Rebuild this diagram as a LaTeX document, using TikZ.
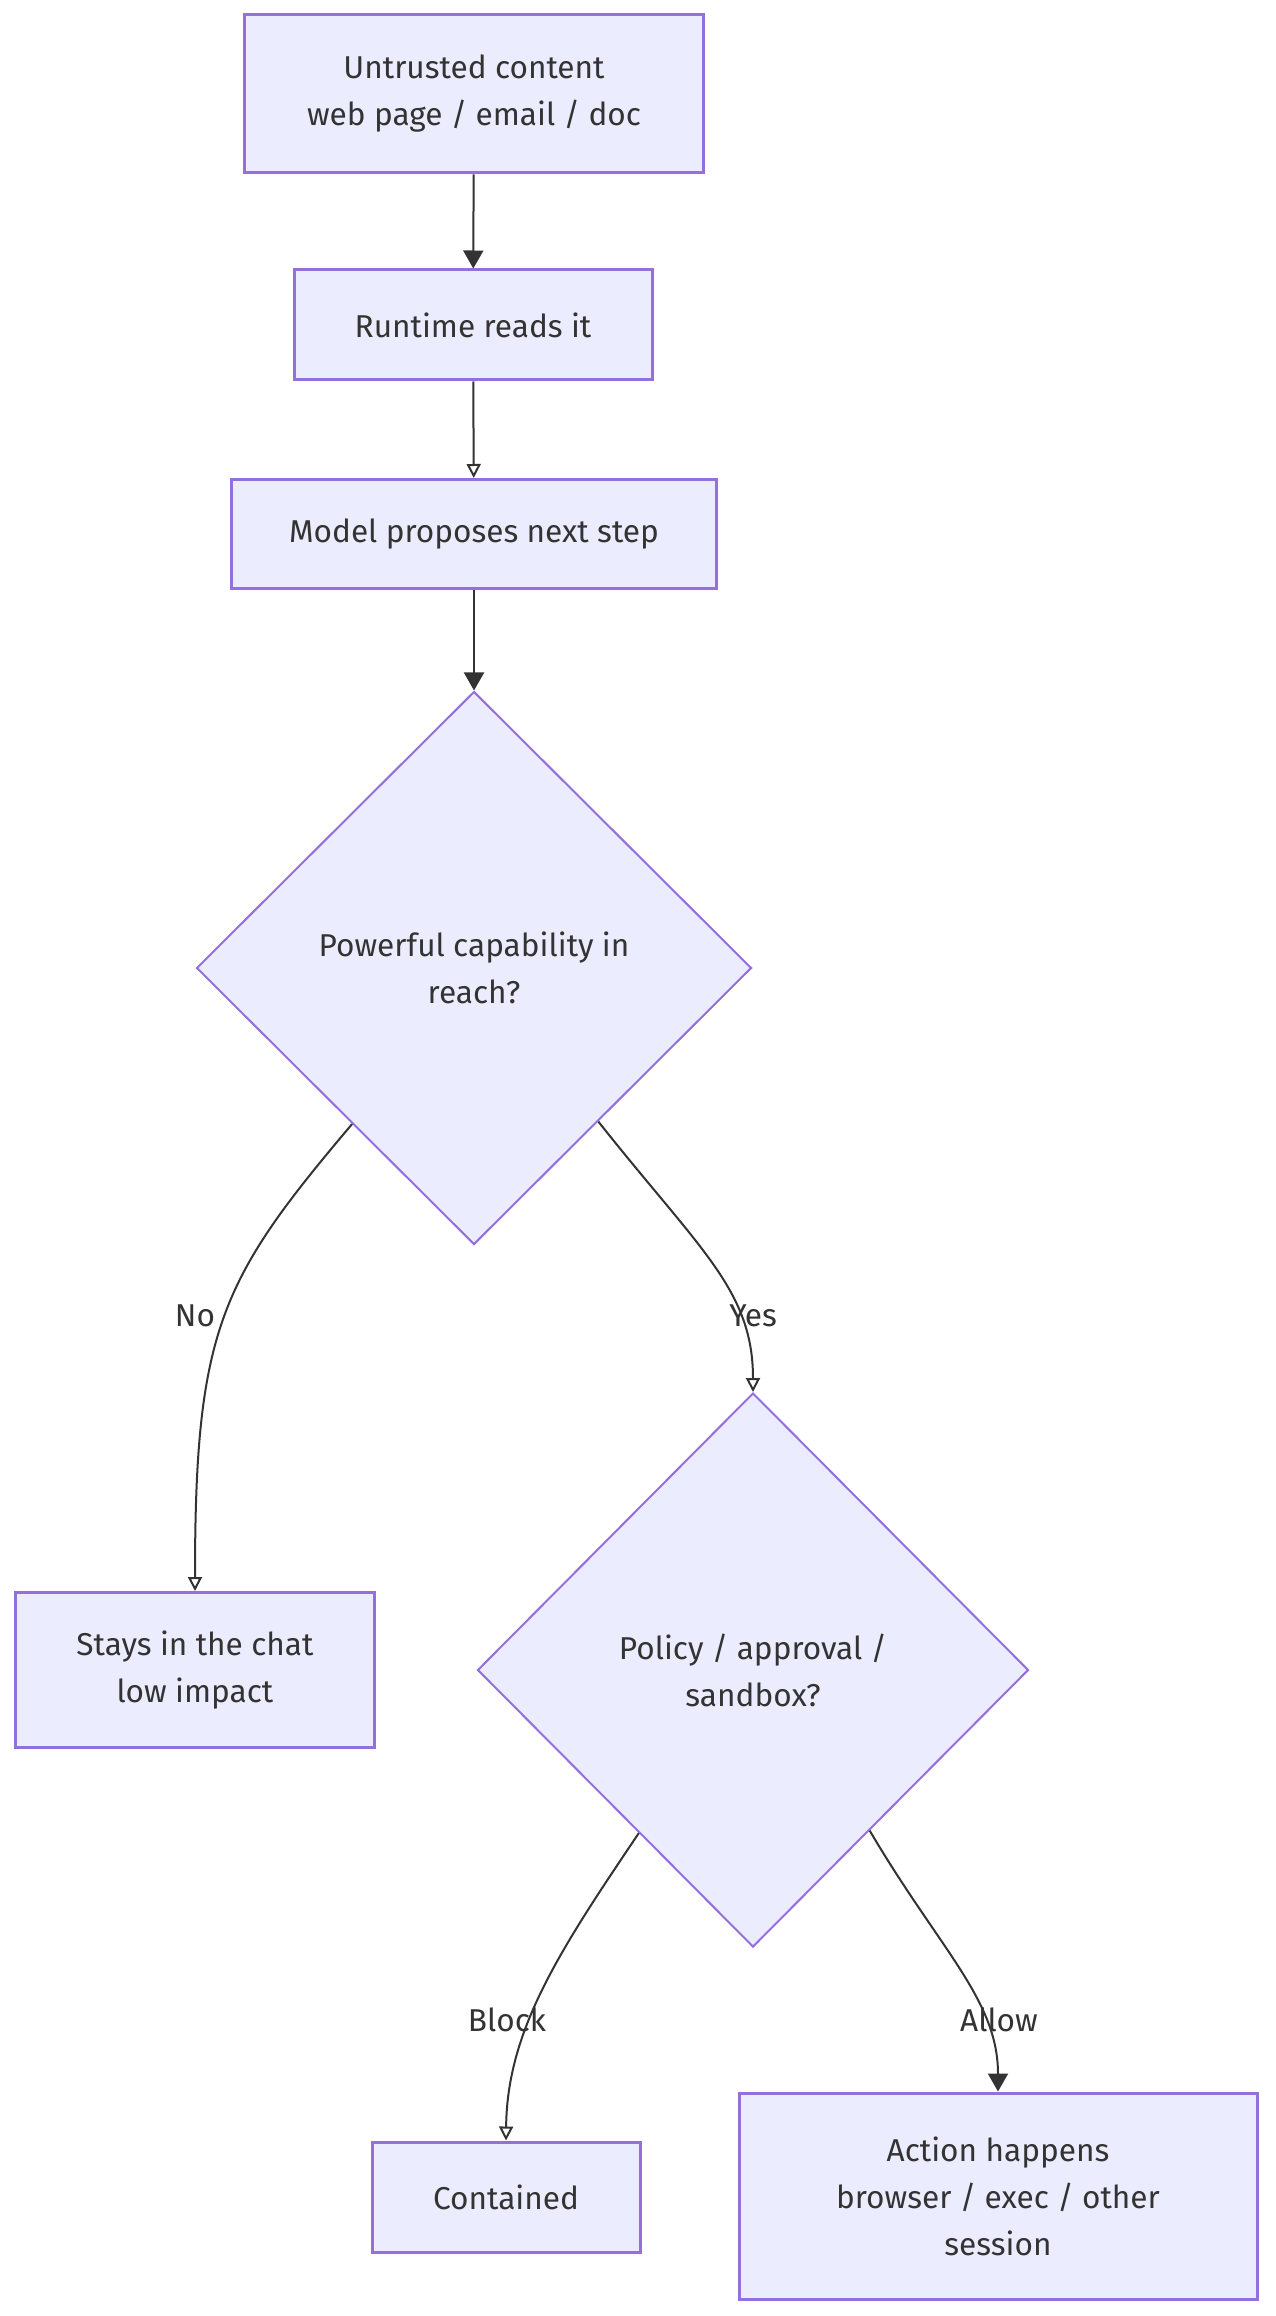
\documentclass[tikz,border=0pt]{standalone}
\usepackage{fontspec}
\setmainfont{Fira Sans}
\usetikzlibrary{arrows.meta,shapes.geometric}
\definecolor{mm-fill}{HTML}{ECECFF}
\definecolor{mm-line}{HTML}{9370DB}
\definecolor{mm-text}{HTML}{333333}

\begin{document}
\begin{tikzpicture}[x=0.5pt, y=-0.5pt, >={Triangle[length=9pt,width=10pt]},
	   font=\fontsize{15.8}{23.5}\selectfont, text=mm-text,
	   bx/.style={draw=mm-line, line width=1.5pt, fill=mm-fill, align=center, inner sep=0pt},
	   dm/.style={draw=mm-line, line width=1pt, fill=mm-fill, diamond, aspect=1, inner sep=0pt, align=center},
	   ln/.style={draw=mm-text, line width=1pt},
	   op/.style={-{Triangle[open,length=7pt,width=7pt]}}]
	  \useasboundingbox (0,0) rectangle (1275,2316);
	  \node[bx, minimum width=229.5pt, minimum height=79pt] (unt) at (474,94) {Untrusted content\\ web page / email / doc};
	  \node[bx, minimum width=179pt, minimum height=55pt] (run) at (473,325) {Runtime reads it};
	  \node[bx, minimum width=242.5pt, minimum height=54.5pt] (mdl) at (474,534) {Model proposes next step};
	  \node[dm, minimum width=277.5pt, minimum height=276.5pt] (cap) at (474,968) {Powerful capability in\\ reach?};
	  \node[bx, minimum width=179.5pt, minimum height=77.5pt] (stay) at (195,1670) {Stays in the chat\\ low impact};
	  \node[dm, minimum width=275.5pt, minimum height=277pt] (pol) at (753,1670) {Policy / approval /\\ sandbox?};
	  \node[bx, minimum width=134pt, minimum height=55pt] (cont) at (506,2197) {Contained};
	  \node[bx, minimum width=259pt, minimum height=103pt] (act) at (998,2196) {Action happens\\ browser / exec / other\\ session};
	  \draw[ln, ->] (unt)--(run); \draw[ln, op] (run)--(mdl); \draw[ln, ->] (mdl)--(cap);
	  \draw[ln, op] (cap.-128) .. controls (220,1280) and (195,1330) .. (stay.north);
	  \draw[ln, op] (cap.-51) .. controls (700,1250) and (753,1290) .. (pol.north);
	  \draw[ln, op] (pol.-125) .. controls (560,1950) and (507,2030) .. (cont.north);
	  \draw[ln, ->] (pol.-54) .. controls (940,1950) and (998,2000) .. (act.north);
	  \node (no) at (195,1316) {No};
	  \node (yes) at (753,1316) {Yes};
	  \node (blk) at (507,2020) {Block};
	  \node (alw) at (999,2020) {Allow};
	\end{tikzpicture}
\end{document}
